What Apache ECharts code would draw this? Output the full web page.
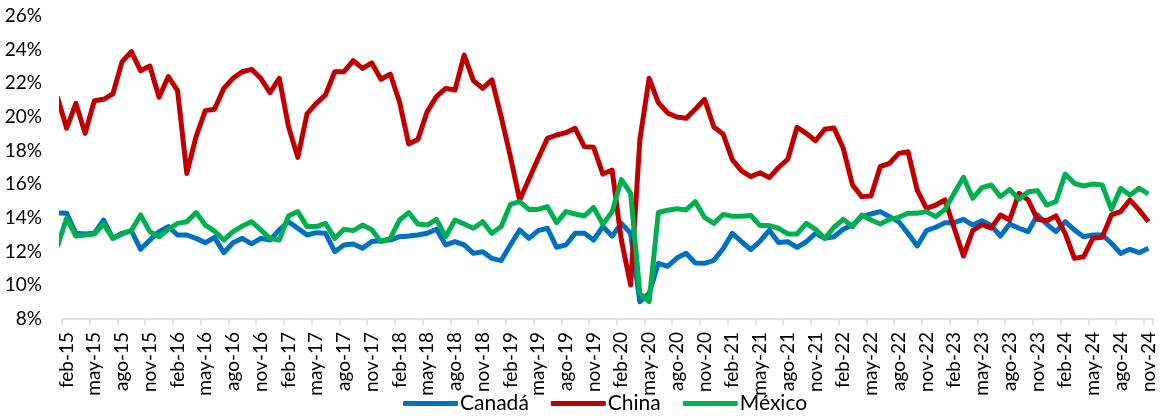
<!DOCTYPE html>
<html>
<head>
<meta charset="utf-8">
<script src="https://cdn.jsdelivr.net/npm/echarts@6/dist/echarts.min.js"></script>
<style>
  html, body { margin: 0; padding: 0; background: #fff; }
  #chart { width: 1160px; height: 419px; }
</style>
</head>
<body>
<div id="chart"></div>
<script>
// Month abbreviations (Spanish) and the first/last month of the series
const monthNames = ['ene','feb','mar','abr','may','jun','jul','ago','sep','oct','nov','dic'];
const startYear = 2015, startMonth = 1;   // feb-15 (0-based month index)
const nMonths = 118;                      // feb-15 ... nov-24

// Value just before the first label (ene-15), partly visible at the left edge
const preCanada = 14.3, preChina = 21.2, preMexico = 12.3;

const canada = [
14.28,13.09,13.05,13.09,13.88,12.79,13.09,13.25,12.14,12.69,13.19,13.49,
12.99,12.99,12.79,12.53,12.85,11.94,12.53,12.79,12.46,12.79,12.69,13.29,
13.78,13.39,12.99,13.13,13.09,12.00,12.40,12.46,12.20,12.60,12.65,12.69,
12.89,12.93,12.99,13.09,13.33,12.40,12.59,12.40,11.90,12.00,11.60,11.47,
12.40,13.29,12.79,13.25,13.39,12.26,12.40,13.09,13.09,12.69,13.50,12.93,
13.68,13.09,9.03,9.52,11.31,11.13,11.62,11.90,11.33,11.31,11.48,12.17,
13.09,12.59,12.12,12.62,13.27,12.55,12.59,12.26,12.59,13.09,12.79,12.89,
13.33,13.58,14.08,14.24,14.38,14.08,13.78,13.09,12.34,13.25,13.45,13.72,
13.72,13.92,13.58,13.83,13.56,12.93,13.64,13.39,13.19,14.18,13.64,13.19,
13.78,13.29,12.89,12.99,12.99,12.50,11.90,12.14,11.94,12.20
];

const china = [
19.33,20.81,19.03,20.97,21.05,21.37,23.29,23.88,22.75,23.03,21.17,22.40,
21.56,16.65,18.83,20.38,20.46,21.70,22.30,22.69,22.83,22.30,21.45,22.30,
19.43,17.60,20.18,20.81,21.31,22.69,22.69,23.35,22.89,23.21,22.24,22.55,
20.91,18.40,18.67,20.32,21.21,21.70,21.60,23.68,22.16,21.70,22.20,20.02,
17.64,15.07,16.30,17.54,18.73,18.93,19.07,19.33,18.24,18.20,16.61,16.85,
12.69,10.02,18.64,22.30,20.86,20.24,20.00,19.92,20.46,21.05,19.41,18.99,
17.47,16.80,16.46,16.69,16.40,17.00,17.49,19.39,19.03,18.59,19.27,19.35,
18.14,15.96,15.27,15.31,17.05,17.25,17.84,17.94,15.66,14.57,14.77,15.07,
13.39,11.74,13.25,13.60,13.40,14.18,13.88,15.47,15.07,13.92,13.84,14.12,
13.09,11.60,11.70,12.79,12.85,14.18,14.38,15.07,14.48,13.78
];

const mexico = [
13.98,12.93,12.99,13.05,13.64,12.79,13.05,13.25,14.18,13.19,12.89,13.33,
13.68,13.78,14.32,13.58,13.22,12.69,13.19,13.52,13.78,13.29,12.79,12.69,
14.12,14.38,13.49,13.49,13.68,12.79,13.33,13.25,13.58,13.30,12.59,12.79,
13.88,14.32,13.64,13.58,13.92,12.89,13.88,13.64,13.39,13.78,13.09,13.49,
14.81,14.97,14.51,14.51,14.67,13.72,14.38,14.24,14.12,14.63,13.62,14.38,
16.28,15.47,9.52,9.03,14.33,14.46,14.55,14.48,14.97,14.03,13.68,14.21,
14.10,14.10,14.15,13.55,13.55,13.39,13.05,13.05,13.68,13.33,12.79,13.45,
13.92,13.49,14.18,13.88,13.64,13.92,14.04,14.28,14.28,14.38,14.08,14.51,
15.47,16.42,15.17,15.80,15.96,15.27,15.70,15.11,15.56,15.62,14.77,14.97,
16.61,16.06,15.90,16.02,15.96,14.51,15.76,15.37,15.76,15.43
];

// Y-axis ticks
const yMin = 8, yMax = 26, yStep = 2;

// Category labels: feb-15 ... nov-24
const categories = [];
for (let i = 0; i < nMonths; i++) {
  const m = (startMonth + i) % 12;
  const y = startYear + Math.floor((startMonth + i) / 12);
  categories.push(monthNames[m] + '-' + String(y).slice(2));
}

// Points at category centres on a hidden value axis (0..nMonths)
function toPoints(pre, arr) {
  const pts = [[-0.5, pre]];
  arr.forEach((v, i) => pts.push([i + 0.5, v]));
  return pts;
}

const FONT = 'Lato';
const chart = echarts.init(document.getElementById('chart'), null, { renderer: 'canvas' });
chart.setOption({
  animation: false,
  backgroundColor: '#ffffff',
  textStyle: { fontFamily: FONT },
  grid: { left: 62, right: 7, top: 16, bottom: 100, containLabel: false },
  legend: {
    bottom: 0,
    left: 398,
    icon: 'roundRect',
    itemWidth: 55,
    itemHeight: 5,
    itemGap: 22,
    textStyle: { fontFamily: FONT, fontSize: 21, color: '#000', padding: [0, 0, 0, -3] },
    data: ['Canadá', 'China', 'México']
  },
  xAxis: [
    {
      type: 'category',
      data: categories,
      boundaryGap: true,
      axisLine: { show: true, lineStyle: { color: '#d9d9d9', width: 1.5 } },
      axisTick: { show: true, interval: 2, length: 6, lineStyle: { color: '#d9d9d9', width: 1.5 } },
      axisLabel: { interval: 2, rotate: 90, margin: 13, fontFamily: FONT, fontSize: 19, color: '#000' },
      splitLine: { show: false }
    },
    {
      type: 'value',
      min: 0,
      max: nMonths,
      show: false,
      splitLine: { show: false }
    }
  ],
  yAxis: {
    type: 'value',
    min: yMin,
    max: yMax,
    interval: yStep,
    axisLine: { show: false },
    axisTick: { show: false },
    splitLine: { show: false },
    axisLabel: { formatter: '{value}%', margin: 20, fontFamily: FONT, fontSize: 19, color: '#000' }
  },
  series: [
    { name: 'Canadá', type: 'line', xAxisIndex: 1, data: toPoints(preCanada, canada), showSymbol: false, clip: true,
      lineStyle: { color: '#0070C0', width: 5, join: 'round' }, itemStyle: { color: '#0070C0' } },
    { name: 'China', type: 'line', xAxisIndex: 1, data: toPoints(preChina, china), showSymbol: false, clip: true,
      lineStyle: { color: '#C00000', width: 5, join: 'round' }, itemStyle: { color: '#C00000' } },
    { name: 'México', type: 'line', xAxisIndex: 1, data: toPoints(preMexico, mexico), showSymbol: false, clip: true,
      lineStyle: { color: '#00B050', width: 5, join: 'round' }, itemStyle: { color: '#00B050' } }
  ]
});
</script>
</body>
</html>
